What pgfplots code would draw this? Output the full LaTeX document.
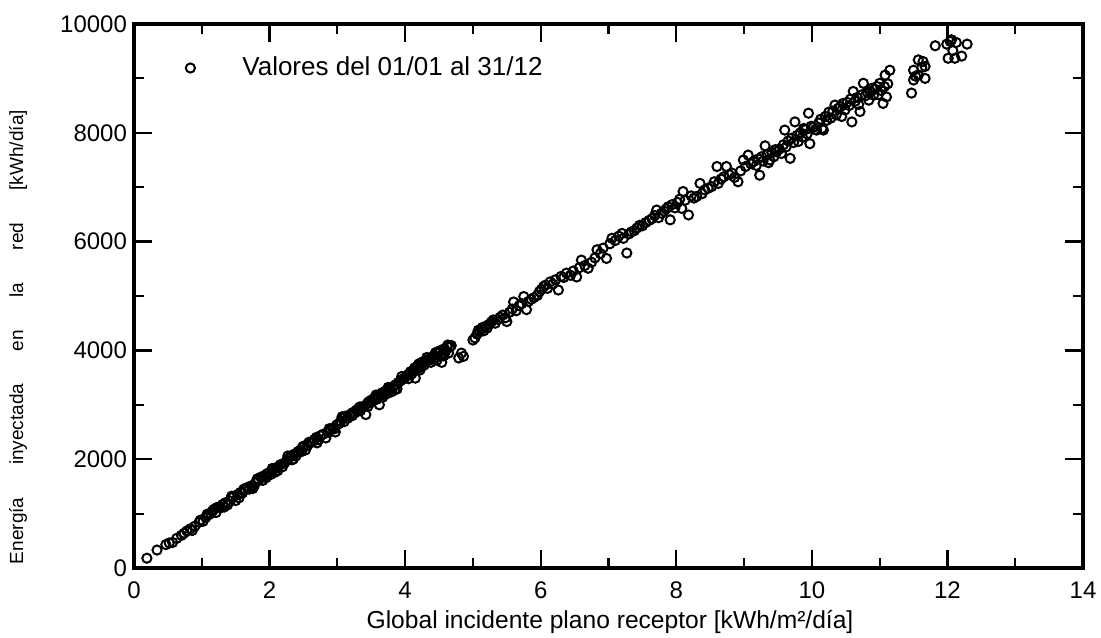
\documentclass[border=0pt]{standalone}
\usepackage{fontspec}
\setmainfont{Liberation Sans}
\usepackage{pgfplots}
\pgfplotsset{compat=1.18}

\begin{document}
\begin{tikzpicture}
    \useasboundingbox (0,0) rectangle (550.5pt,318.5pt);
    \begin{axis}[
        at={(67pt,34.5pt)}, anchor=south west,
        scale only axis, width=474.5pt, height=272pt,
        xmin=0, xmax=14, ymin=0, ymax=10000,
        xtick={0,2,...,14}, ytick={0,2000,...,10000},
        minor x tick num=1, minor y tick num=1,
        tick align=inside, major tick length=9pt, minor tick length=5pt,
        axis line style={line width=1.8pt},
        tick style={line width=1.1pt, black},
        scaled y ticks=false,
        /pgf/number format/assume math mode=true,
        /pgf/number format/1000 sep={},
        ticklabel style={font=\fontsize{12}{14}\selectfont},
        xticklabel style={yshift=-3.5pt},
        legend style={draw=none, fill=none, inner sep=0pt,
            at={(axis cs:0.826,9191)}, anchor=west, xshift=-6pt,
            font=\fontsize{13}{15}\selectfont},
        legend image code/.code={
            \draw[#1] plot coordinates {(0pt,0pt)};
            \path[draw=none] (-6pt,0pt) -- (24pt,0pt);},
    ]
        % daily values
        \addplot[only marks, mark=o, mark size=2.3pt, line width=1pt, black] coordinates {
        (0.19,180)(0.34,330)(0.47,430)(0.52,460)(0.57,470)(0.63,545)(0.70,600)(0.74,640)(0.78,680)(0.83,720)(0.86,690)(0.90,770)(0.96,840)(0.98,880)(1.02,860)
        (1.06,930)(1.10,980)(1.13,1000)(1.16,1050)(1.18,1080)(1.21,1020)(1.25,1120)(1.28,1110)(1.31,1170)(1.35,1200)(1.38,1160)(1.42,1230)(1.46,1300)(1.50,1240)(1.53,1350)(1.57,1390)(1.60,1380)(1.64,1440)(1.67,1480)(1.70,1450)(1.73,1510)(1.77,1500)(1.80,1580)(1.84,1610)(1.87,1670)(1.90,1610)(1.93,1700)(1.96,1730)(1.99,1750)(2.02,1720)(2.05,1800)
        (1.08,990)(1.22,1110)(1.33,1120)(1.44,1320)(1.55,1290)(1.62,1450)(1.75,1460)(1.82,1640)(1.95,1660)
        (2.08,1760)(2.10,1840)(2.13,1860)(2.16,1900)(2.19,1860)(2.22,1930)(2.25,1970)(2.28,2010)(2.31,2050)(2.33,1990)(2.36,2090)(2.39,2060)(2.42,2140)(2.45,2160)(2.48,2210)(2.50,2240)(2.53,2170)(2.56,2250)(2.60,2300)(2.63,2320)(2.66,2360)(2.69,2400)(2.72,2360)(2.75,2430)(2.79,2460)(2.83,2390)(2.86,2490)(2.90,2540)(2.93,2570)(2.96,2560)(2.99,2630)(3.02,2650)
        (2.04,1830)(2.12,1790)(2.27,2060)(2.35,2000)(2.47,2140)(2.58,2310)(2.70,2300)(2.88,2560)(2.97,2500)
        (3.05,2700)(3.08,2750)(3.10,2690)(3.12,2790)(3.15,2750)(3.18,2810)(3.20,2830)(3.23,2860)(3.26,2850)(3.28,2900)(3.31,2930)(3.34,2890)(3.37,2960)(3.40,2980)(3.42,2820)(3.44,3020)(3.46,3050)(3.48,3070)(3.50,3040)(3.52,3100)(3.54,3110)(3.56,3140)(3.58,3100)(3.60,3170)(3.62,3000)(3.64,3190)(3.66,3220)(3.68,3180)(3.70,3240)(3.72,3260)(3.74,3210)(3.76,3280)(3.78,3300)(3.80,3240)(3.83,3340)(3.86,3370)(3.88,3290)(3.90,3410)(3.93,3440)(3.96,3470)(3.99,3490)(4.02,3530)
        (3.07,2780)(3.22,2800)(3.33,2960)(3.45,2970)(3.57,3180)(3.67,3140)(3.75,3320)(3.85,3280)(3.95,3520)
        (4.04,3550)(4.06,3570)(4.08,3610)(4.10,3570)(4.12,3630)(4.15,3490)(4.16,3670)(4.18,3710)(4.20,3750)(4.21,3680)(4.23,3770)(4.24,3710)(4.26,3790)(4.28,3730)(4.30,3800)(4.33,3830)(4.36,3820)(4.40,3880)(4.43,3910)(4.46,3870)(4.48,3950)(4.50,3960)(4.52,4000)(4.54,3780)(4.56,3950)(4.58,4030)(4.60,3990)(4.62,4070)(4.64,3950)(4.66,4060)(4.68,4090)(4.79,3860)(4.83,3950)(4.86,3890)
        (4.05,3480)(4.14,3680)(4.22,3640)(4.32,3870)(4.38,3780)(4.45,3960)(4.47,3820)(4.57,3900)(4.63,4100)
        (5.00,4190)(5.03,4230)(5.06,4300)(5.08,4370)(5.10,4340)(5.12,4390)(5.14,4420)(5.16,4360)(5.18,4440)(5.21,4410)(5.24,4480)(5.27,4520)(5.30,4560)(5.33,4500)(5.37,4570)(5.40,4610)(5.44,4650)(5.48,4600)(5.50,4530)(5.54,4700)(5.58,4760)(5.60,4890)(5.64,4730)(5.68,4820)(5.72,4860)(5.75,4990)(5.79,4750)(5.82,4900)(5.86,4940)(5.90,4970)(5.95,5010)(5.98,5080)
        (6.01,5120)(6.04,5170)(6.07,5200)(6.10,5140)(6.14,5260)(6.18,5220)(6.22,5300)(6.26,5110)(6.30,5360)(6.34,5340)(6.38,5420)(6.44,5380)(6.48,5460)(6.53,5350)(6.57,5520)(6.60,5660)(6.65,5560)(6.70,5510)(6.75,5620)(6.80,5700)(6.83,5850)(6.88,5780)(6.92,5880)(6.97,5690)(7.02,5960)(7.05,6060)
        (7.10,6020)(7.15,6100)(7.20,6150)(7.22,6060)(7.27,5790)(7.30,6140)(7.34,6180)(7.38,6200)(7.42,6250)(7.46,6300)(7.50,6290)(7.55,6350)(7.60,6390)(7.64,6420)(7.68,6480)(7.71,6580)(7.74,6440)(7.78,6520)(7.82,6560)(7.85,6600)(7.88,6640)(7.91,6400)(7.94,6680)(7.98,6620)
        (8.02,6720)(8.05,6780)(8.08,6610)(8.10,6920)(8.13,6760)(8.18,6490)(8.22,6840)(8.26,6800)(8.30,6830)(8.35,7070)(8.38,6880)(8.42,6950)(8.47,6980)(8.52,7010)(8.56,7100)(8.60,7380)(8.62,7070)(8.66,7150)(8.70,7190)(8.74,7380)(8.78,7230)(8.82,7260)(8.86,7180)(8.91,7100)(8.95,7300)(8.99,7500)
        (9.02,7380)(9.06,7590)(9.10,7430)(9.14,7470)(9.18,7400)(9.21,7520)(9.23,7220)(9.26,7560)(9.28,7480)(9.31,7760)(9.34,7600)(9.36,7450)(9.38,7500)(9.41,7640)(9.44,7560)(9.46,7690)(9.48,7650)(9.52,7700)(9.55,7620)(9.58,7780)(9.60,8050)(9.62,7740)(9.65,7850)(9.68,7530)(9.70,7900)(9.73,7820)(9.75,8200)(9.78,7950)(9.80,7840)(9.83,8000)(9.86,7920)(9.88,8080)(9.91,8060)(9.93,7980)(9.95,8360)(9.97,7800)(9.99,8120)
        (10.02,8100)(10.05,8060)(10.07,8050)(10.10,8180)(10.13,8250)(10.15,8080)(10.17,8050)(10.20,8300)(10.22,8230)(10.25,8380)(10.28,8270)(10.31,8400)(10.34,8510)(10.36,8330)(10.39,8450)(10.42,8480)(10.44,8300)(10.46,8540)(10.49,8420)(10.52,8560)(10.55,8500)(10.57,8620)(10.59,8200)(10.61,8760)(10.64,8580)(10.67,8650)(10.69,8520)(10.71,8390)(10.74,8700)(10.76,8910)(10.79,8680)(10.82,8740)(10.84,8600)(10.86,8760)(10.89,8820)(10.91,8690)(10.93,8800)(10.96,8850)(10.98,8700)
        (11.00,8910)(11.02,8780)(11.05,8540)(11.07,8850)(11.08,9060)(11.10,8660)(11.12,8900)(11.15,9150)
        (11.47,8730)(11.50,8970)(11.50,9150)(11.53,9040)(11.57,9340)(11.57,9060)(11.62,9200)(11.64,9310)(11.67,9220)(11.67,9000)
        (11.82,9600)(11.99,9630)(12.01,9370)(12.04,9680)(12.06,9710)(12.08,9510)(12.11,9370)(12.13,9660)(12.21,9410)(12.29,9630)
        };
        \addlegendentry{Valores del 01/01 al 31/12}
    \end{axis}
    % axis titles
    \node[font=\fontsize{12.3}{14}\selectfont] at (305pt,7.5pt) {Global incidente plano receptor [kWh/m²/día]};
    \node[rotate=90, font=\fontsize{9.5}{11}\selectfont] at (9pt,150pt)
        {\makebox[227pt][s]{Energía inyectada en la red [kWh/día]}};
\end{tikzpicture}
\end{document}
